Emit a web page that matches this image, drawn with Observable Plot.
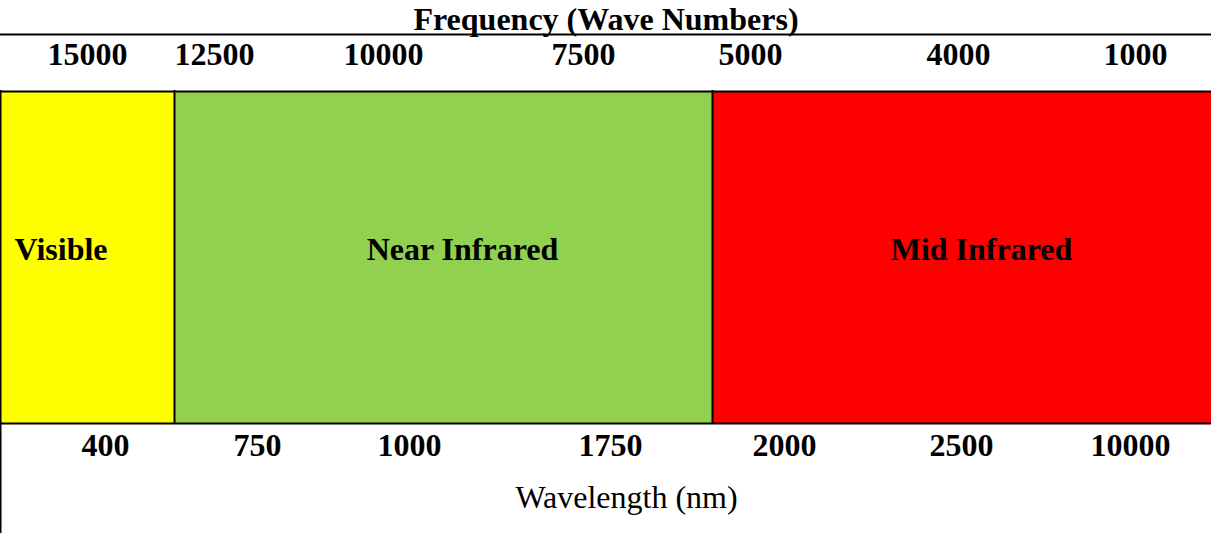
<!DOCTYPE html>
<html>
<head>
<meta charset="utf-8">
<script src="https://cdn.jsdelivr.net/npm/d3@7"></script>
<script src="https://cdn.jsdelivr.net/npm/@observablehq/plot@0.6"></script>
<style>
  html, body { margin: 0; padding: 0; background: #fff; }
  #chart svg { display: block; }
</style>
</head>
<body>
<div id="chart"></div>
<script>
// ---- Data ----
// Spectral bands (layout units across the 1211-wide strip)
const bandNames = ["Visible", "Near Infrared", "Mid Infrared"];
const bandStart = [0, 174, 712];
const bandEnd = [174, 712, 1211];
const bandColors = ["#FFFF00", "#92D050", "#FF0000"];
const bandLabelPos = [14, 462, 981];
const bandLabelAnchor = ["start", "middle", "middle"];

// Frequency (wave numbers) tick labels, top row
const freqLabels = ["15000", "12500", "10000", "7500", "5000", "4000", "1000"];
const freqPos = [87, 214, 383, 583, 750, 958, 1135];

// Wavelength (nm) tick labels, bottom row
const waveLabels = ["400", "750", "1000", "1750", "2000", "2500", "10000"];
const wavePos = [105, 257, 409, 610, 784, 961, 1130];

// Row layout (baselines / edges, in layout units)
const titleRow = 29, titleRule = 34, freqRow = 64;
const bandTop = 91, bandBottom = 423, bandLabelRow = 259;
const waveRow = 455, axisTitleRow = 507;
const W = 1211, H = 533;

const bands = bandNames.map((name, i) => ({
  name, x1: bandStart[i], x2: bandEnd[i], color: bandColors[i],
  lx: bandLabelPos[i], anchor: bandLabelAnchor[i]
}));
const freq = freqLabels.map((label, i) => ({label, x: freqPos[i]}));
const wave = waveLabels.map((label, i) => ({label, x: wavePos[i]}));

const font = "'Liberation Serif', 'Times New Roman', serif";

const chart = Plot.plot({
  width: W,
  height: H,
  margin: 0,
  x: {domain: [0, W], range: [0, W], axis: null},
  y: {domain: [0, H], range: [0, H], axis: null},
  style: {fontFamily: font, background: "#fff", overflow: "hidden"},
  marks: [
    Plot.rect(bands, {x1: "x1", x2: "x2", y1: bandTop, y2: bandBottom, fill: "color"}),
    // band borders: top, bottom, and left edges of each band
    Plot.ruleY([bandTop, bandBottom], {stroke: "#000", strokeWidth: 2}),
    Plot.ruleX(bandStart, {y1: bandTop - 1, y2: bandBottom + 1, stroke: "#000", strokeWidth: 2}),
    Plot.ruleY([titleRule], {stroke: "#000", strokeWidth: 2}),
    Plot.ruleX([0], {y1: bandBottom, y2: H, stroke: "#000", strokeWidth: 2}),
    Plot.text(["Frequency (Wave Numbers)"], {x: W / 2, y: titleRow, text: d => d, fontSize: 32, fontWeight: "bold", lineAnchor: "bottom", fill: "#000"}),
    Plot.text(freq, {x: "x", y: freqRow, text: "label", fontSize: 32, fontWeight: "bold", lineAnchor: "bottom", fill: "#000"}),
    Plot.text(bands, {x: "lx", y: bandLabelRow, text: "name", textAnchor: d => d.anchor, fontSize: 32, fontWeight: "bold", lineAnchor: "bottom", fill: "#000"}),
    Plot.text(wave, {x: "x", y: waveRow, text: "label", fontSize: 32, fontWeight: "bold", lineAnchor: "bottom", fill: "#000"}),
    Plot.text(["Wavelength (nm)"], {x: 626, y: axisTitleRow, text: d => d, fontSize: 32, lineAnchor: "bottom", fill: "#000"})
  ]
});
// textAnchor as a channel isn't supported; apply per-datum anchors after render
d3.select(chart).selectAll("text").each(function () {
  const t = this.textContent;
  const b = bands.find(d => d.name === t);
  if (b) this.setAttribute("text-anchor", b.anchor);
});
document.getElementById("chart").appendChild(chart);
</script>
</body>
</html>
